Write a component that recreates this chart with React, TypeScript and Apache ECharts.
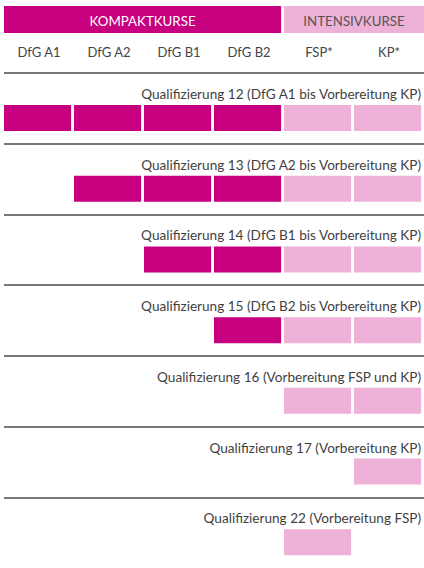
import React, { useEffect, useRef } from "react";
import * as echarts from "echarts";

const columns = ["DfG A1", "DfG A2", "DfG B1", "DfG B2", "FSP*", "KP*"];
const columnGroup = [0, 0, 0, 0, 1, 1];
const groupNames = ["KOMPAKTKURSE", "INTENSIVKURSE"];
const rowTitles = [
  "Qualifizierung 12 (DfG A1 bis Vorbereitung KP)",
  "Qualifizierung 13 (DfG A2 bis Vorbereitung KP)",
  "Qualifizierung 14 (DfG B1 bis Vorbereitung KP)",
  "Qualifizierung 15 (DfG B2 bis Vorbereitung KP)",
  "Qualifizierung 16 (Vorbereitung FSP und KP)",
  "Qualifizierung 17 (Vorbereitung KP)",
  "Qualifizierung 22 (Vorbereitung FSP)",
];
const rowStart = [0, 1, 2, 3, 4, 5, 4];
const rowEnd = [5, 5, 5, 5, 5, 5, 4];

const MAGENTA = "#C6007E";
const PINK = "#EEB1D7";
const FONT = "Lato";
const GAP = 2.9;

export default function App() {
  const ref = useRef<HTMLDivElement>(null);
  useEffect(() => {
    if (!ref.current) return;
    const chart = echarts.init(ref.current, null, { renderer: "svg" });

    const cells: number[][] = [];
    rowTitles.forEach((_, r) => {
      for (let c = rowStart[r]; c <= rowEnd[r]; c++) cells.push([c, r, columnGroup[c]]);
    });
    const groups: number[][] = [];
    groupNames.forEach((_, g) => {
      const idx = columnGroup.map((v, i) => (v === g ? i : -1)).filter((i) => i >= 0);
      groups.push([idx[0], idx[idx.length - 1], g]);
    });
    const titleData = rowTitles.map((_, r) => [columns.length - 1, r]);

    chart.setOption({
      animation: false,
      grid: { left: 4, top: 73, width: 422.4, height: 497 },
      xAxis: {
        type: "category",
        data: columns,
        position: "top",
        axisLine: { show: false },
        axisTick: { show: false },
        splitLine: { show: false },
        axisLabel: { interval: 0, color: "#444", fontSize: 13, fontFamily: FONT, margin: 15 },
      },
      yAxis: {
        type: "category",
        data: rowTitles,
        inverse: true,
        axisLine: { show: false },
        axisTick: { show: false },
        axisLabel: { show: false, interval: 0 },
        splitLine: {
          show: true,
          interval: 0,
          showMaxLine: false,
          lineStyle: { color: "#777", width: 2 },
        },
      },
      series: [
        {
          type: "custom",
          clip: false,
          data: cells,
          renderItem: (params: any, api: any) => {
            const c = api.value(0), r = api.value(1), g = api.value(2);
            const center = api.coord([c, r]);
            const size = api.size([1, 1]);
            const top = center[1] - size[1] / 2;
            return {
              type: "rect",
              shape: { x: center[0] - size[0] / 2, y: top + 32, width: size[0] - GAP, height: 26 },
              style: { fill: g === 0 ? MAGENTA : PINK },
            };
          },
        },
        {
          type: "custom",
          clip: false,
          data: titleData,
          renderItem: (params: any, api: any) => {
            const c = api.value(0), r = api.value(1);
            const center = api.coord([c, r]);
            const size = api.size([1, 1]);
            const top = center[1] - size[1] / 2;
            return {
              type: "text",
              x: center[0] + size[0] / 2 - GAP,
              y: top + 21,
              style: {
                text: rowTitles[params.dataIndex],
                align: "right",
                verticalAlign: "middle",
                fill: "#3f3f3f",
                font: `13.6px ${FONT}`,
              },
            };
          },
        },
        {
          type: "custom",
          clip: false,
          data: groups,
          renderItem: (params: any, api: any) => {
            const s = api.value(0), e = api.value(1), g = api.value(2);
            const cs = api.coord([s, 0]);
            const ce = api.coord([e, 0]);
            const size = api.size([1, 1]);
            const gridTop = cs[1] - size[1] / 2;
            const x0 = cs[0] - size[0] / 2;
            const x1 = ce[0] + size[0] / 2 - (g === 0 ? GAP : 0);
            return {
              type: "group",
              children: [
                {
                  type: "rect",
                  shape: { x: x0, y: gridTop - 67, width: x1 - x0, height: 27 },
                  style: { fill: g === 0 ? MAGENTA : PINK },
                },
                {
                  type: "text",
                  x: (x0 + x1) / 2,
                  y: gridTop - 52.5,
                  style: {
                    text: groupNames[g],
                    align: "center",
                    verticalAlign: "middle",
                    fill: g === 0 ? "#fff" : "#555",
                    font: `13.3px ${FONT}`,
                  },
                },
              ],
            };
          },
        },
      ],
    });
    return () => chart.dispose();
  }, []);
  return (
    <div
      ref={ref}
      style={{ position: "fixed", left: 0, top: 0, width: 424, height: 568, background: "#fff" }}
    />
  );
}
